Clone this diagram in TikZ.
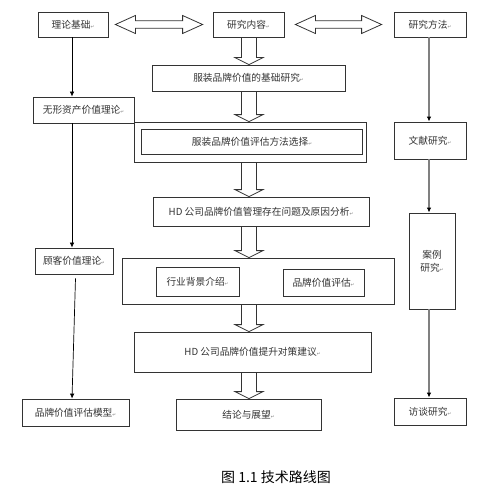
\documentclass[tikz,border=0pt]{standalone}
\usepackage{fontspec}
\setmainfont{Noto Sans CJK SC}
\newfontfamily\dvfont{DejaVu Sans}
\usetikzlibrary{calc,arrows.meta}
\definecolor{bordc}{HTML}{333333}
\definecolor{textc}{HTML}{333333}
\definecolor{rline}{HTML}{808080}
\newcommand\pmark{{\dvfont\fontsize{4.5}{5}\selectfont\color{gray}↵}}
\tikzset{
  box/.style={draw=bordc, line width=0.8pt, rectangle, inner sep=0pt, text=textc,
    font=\fontsize{9.7}{13}\selectfont, align=center},
  thickbox/.style={box, line width=1.6pt},
  frame/.style={draw=bordc, line width=0.8pt, rectangle, inner sep=0pt},
  barrow/.style={draw=bordc, line width=0.8pt, line join=miter},
  thinline/.style={draw=black, line width=0.7pt, -{Latex[length=5pt,width=4.5pt]}},
  grayline/.style={draw=rline, line width=1.3pt, -{Latex[length=5pt,width=4.5pt,color=black]}},
}
\newcommand\blockarr[2]{%
  \path (ax |- #1.south) coordinate (s) (ax |- #2.north) coordinate (t);
  \draw[barrow] ($(s)+(-7.5,0)$) -- ($(t)+(-7.5,-7)$) -- ($(t)+(-14,-7)$) -- (t)
     -- ($(t)+(14,-7)$) -- ($(t)+(7.5,-7)$) -- ($(s)+(7.5,0)$);}
\newcommand\dblarr[2]{%
  \draw[barrow] (#1) -- ($(#1)+(20,-9)$) -- ($(#1)+(20,-3.8)$) -- ($(#2)+(-20,-3.8)$)
     -- ($(#2)+(-20,-9)$) -- (#2) -- ($(#2)+(-20,9)$) -- ($(#2)+(-20,3.8)$)
     -- ($(#1)+(20,3.8)$) -- ($(#1)+(20,9)$) -- cycle;}
\begin{document}
\begin{tikzpicture}[x=1pt,y=-1pt]
\useasboundingbox (0,0) rectangle (487,495);
\fill[white] (0,0) rectangle (487,495);
\coordinate (ax) at (249,0);
% top row
\node[box, minimum width=70pt, minimum height=25pt] (lilun) at (73,24.5) {理论基础\pmark};
\node[box, minimum width=71pt, minimum height=25pt] (neirong) at (248.5,24.5) {研究内容\pmark};
\node[box, minimum width=72pt, minimum height=25pt] (fangfa) at (430,24.5) {研究方法\pmark};
% center column
\node[box, minimum width=193pt, minimum height=26pt] (jichu) at (248.5,78) {服装品牌价值的基础研究\pmark};
\node[frame, minimum width=232pt, minimum height=40pt] (outer1) at (250,142) {};
\node[thickbox, minimum width=221pt, minimum height=25pt] (pinggu) at (252,142) {服装品牌价值评估方法选择\pmark};
\node[box, minimum width=216pt, minimum height=29pt] (hd1) at (261,211.5) {HD 公司品牌价值管理存在问题及原因分析\pmark};
\node[frame, minimum width=272pt, minimum height=46pt] (outer2) at (258,281) {};
\node[box, minimum width=83pt, minimum height=29pt] (hangye) at (197.5,281.5) {行业背景介绍\pmark};
\node[box, minimum width=81pt, minimum height=27pt] (pinpai) at (323.5,282.5) {品牌价值评估\pmark};
\node[box, minimum width=237pt, minimum height=40pt] (hd2) at (252.5,352) {HD 公司品牌价值提升对策建议\pmark};
\node[box, minimum width=145pt, minimum height=31pt] (jielun) at (248.5,414.5) {结论与展望\pmark};
% left column
\node[box, minimum width=101pt, minimum height=26pt] (wuxing) at (83.5,110) {无形资产价值理论\pmark};
\node[box, minimum width=78pt, minimum height=26pt] (guke) at (74,261) {顾客价值理论\pmark};
\node[box, minimum width=107pt, minimum height=27pt] (moxing) at (75.5,412.5) {品牌价值评估模型\pmark};
% right column
\node[box, minimum width=72pt, minimum height=37pt] (wenxian) at (430,140.5) {文献研究\pmark};
\node[box, minimum width=46pt, minimum height=96pt] (anli) at (432,261) {案例\\研究\pmark};
\node[box, minimum width=72pt, minimum height=27pt] (fangtan) at (430,411.5) {访谈研究\pmark};
% caption
\node[text=black, font=\fontsize{14}{16}\selectfont, inner sep=0pt] (cap) at (276,477) {图 1.1 技术路线图};
% double arrows
\coordinate (d1a) at ($(lilun.east)+(7,0)$);
\coordinate (d1b) at ($(neirong.west)+(-10,0)$);
\coordinate (d2a) at ($(neirong.east)+(11,0)$);
\coordinate (d2b) at ($(fangfa.west)+(-12,0)$);
\dblarr{d1a}{d1b}
\dblarr{d2a}{d2b}
% block arrows
\blockarr{neirong}{jichu}
\blockarr{jichu}{outer1}
\blockarr{outer1}{hd1}
\blockarr{hd1}{outer2}
\blockarr{outer2}{hd2}
\blockarr{hd2}{jielun}
% left lines
\coordinate (lx) at (72,0);
\draw[thinline] (lx |- lilun.south) -- (lx |- wuxing.north);
\draw[thinline] (lx |- wuxing.south) -- (lx |- guke.north);
\draw[thinline] ([xshift=1.5pt,yshift=-4pt]guke.south) -- (lx |- moxing.north);
% right lines
\coordinate (rx) at (429,0);
\draw[grayline] (rx |- fangfa.south) -- (rx |- wenxian.north);
\draw[grayline] (rx |- wenxian.south) -- (rx |- anli.north);
\draw[grayline] (rx |- anli.south) -- (rx |- fangtan.north);
\end{tikzpicture}
\end{document}
